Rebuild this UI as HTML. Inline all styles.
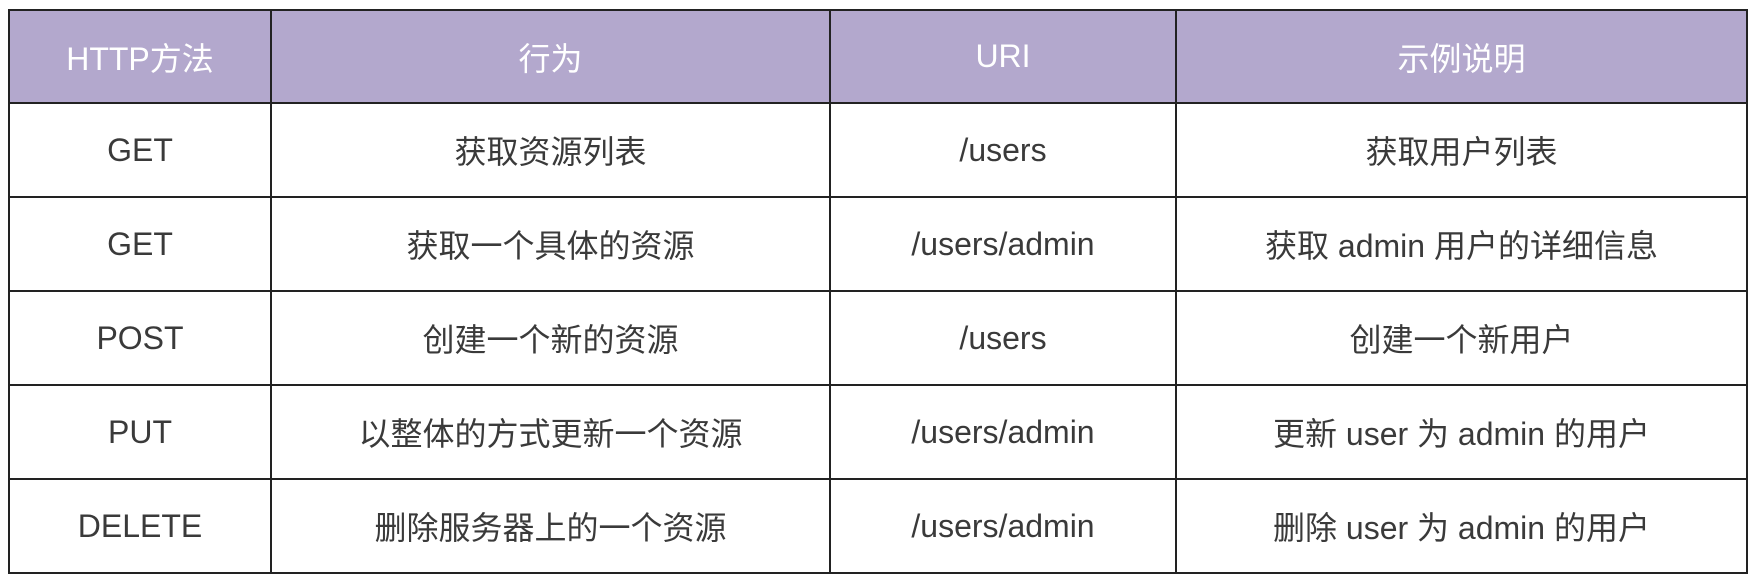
<!DOCTYPE html>
<html><head><meta charset="utf-8"><style>
html,body{margin:0;padding:0;background:#fff;width:1754px;height:582px;overflow:hidden}
table{position:absolute;left:8px;top:9px;border-collapse:collapse;width:1738px;font-family:"Liberation Sans","Noto Sans CJK SC",sans-serif;font-size:32px;color:#3a3a3a;table-layout:fixed}
td,th{border:2px solid #222;text-align:center;height:92px;padding:0}
th{background:#b3a8cd;color:#fff;font-weight:normal;height:91px}
</style></head><body>
<table>
<colgroup><col style="width:262px"><col style="width:559px"><col style="width:346px"><col style="width:571px"></colgroup>
<tr><th>HTTP方法</th><th>行为</th><th>URI</th><th>示例说明</th></tr>
<tr><td>GET</td><td>获取资源列表</td><td>/users</td><td>获取用户列表</td></tr>
<tr><td>GET</td><td>获取一个具体的资源</td><td>/users/admin</td><td>获取 admin 用户的详细信息</td></tr>
<tr><td>POST</td><td>创建一个新的资源</td><td>/users</td><td>创建一个新用户</td></tr>
<tr><td>PUT</td><td>以整体的方式更新一个资源</td><td>/users/admin</td><td>更新 user 为 admin 的用户</td></tr>
<tr><td>DELETE</td><td>删除服务器上的一个资源</td><td>/users/admin</td><td>删除 user 为 admin 的用户</td></tr>
</table>
</body></html>
